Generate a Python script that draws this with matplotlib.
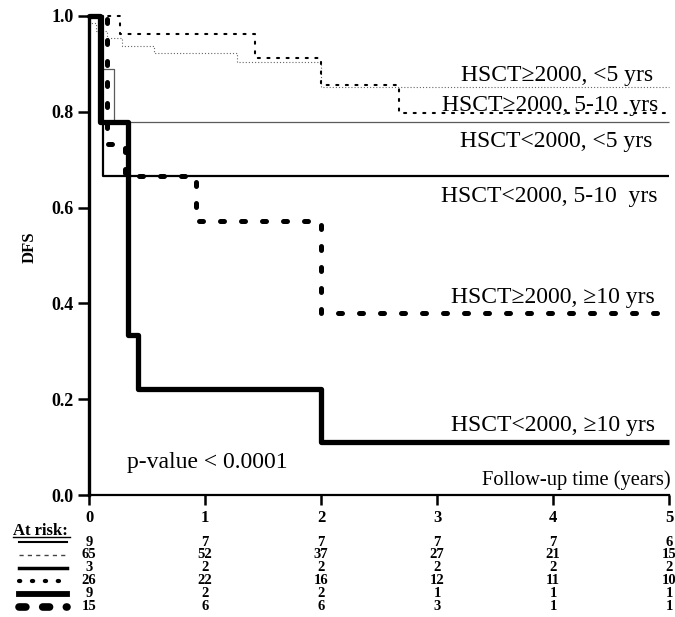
import matplotlib
matplotlib.use("Agg")
import matplotlib.pyplot as plt
from matplotlib.lines import Line2D
from matplotlib.transforms import blended_transform_factory

plt.rcParams['font.family'] = ['Liberation Serif', 'DejaVu Serif']

# Kaplan-Meier step curves (time in years, disease-free survival)
t_lt2000_lt5 = [0, 0.11, 0.215, 5]
s_lt2000_lt5 = [1.0, 0.889, 0.778, 0.778]

t_lt2000_5to10 = [0, 0.12, 5]
s_lt2000_5to10 = [1.0, 0.667, 0.667]

t_ge2000_lt5 = [0, 0.01, 0.06, 0.155, 0.285, 0.56, 1.28, 2.0, 5]
s_ge2000_lt5 = [1.0, 0.985, 0.969, 0.954, 0.938, 0.922, 0.903, 0.852, 0.852]

t_ge2000_5to10 = [0, 0.27, 1.43, 2.0, 2.67, 5]
s_ge2000_5to10 = [1.0, 0.962, 0.912, 0.855, 0.798, 0.798]

t_lt2000_ge10 = [0, 0.095, 0.335, 0.42, 2.0, 5]
s_lt2000_ge10 = [1.0, 0.778, 0.333, 0.222, 0.111, 0.111]

t_ge2000_ge10 = [0, 0.155, 0.31, 0.92, 2.0, 5]
s_ge2000_ge10 = [1.0, 0.733, 0.667, 0.571, 0.381, 0.381]

risk_times = [0, 1, 2, 3, 4, 5]
risk_lt2000_lt5 = [9, 7, 7, 7, 7, 6]
risk_ge2000_lt5 = [65, 52, 37, 27, 21, 15]
risk_lt2000_5to10 = [3, 2, 2, 2, 2, 2]
risk_ge2000_5to10 = [26, 22, 16, 12, 11, 10]
risk_lt2000_ge10 = [9, 2, 2, 1, 1, 1]
risk_ge2000_ge10 = [15, 6, 6, 3, 1, 1]

# line styles for each group
styles = {
    'lt2000_lt5': dict(color='#5a5a5a', lw=0.9, ls='-'),
    'ge2000_lt5': dict(color='#666666', lw=0.8, ls=(0, (1.0, 1.8))),
    'lt2000_5to10': dict(color='black', lw=1.6, ls='-'),
    'ge2000_5to10': dict(color='black', lw=1.5, ls=(0, (1.0, 3.6)), dash_capstyle='round'),
    'lt2000_ge10': dict(color='black', lw=3.8, ls='-'),
    'ge2000_ge10': dict(color='black', lw=3.6, ls=(0, (0.8, 3.4)), dash_capstyle='round'),
}

curves = [
    ('lt2000_lt5', t_lt2000_lt5, s_lt2000_lt5),
    ('ge2000_lt5', t_ge2000_lt5, s_ge2000_lt5),
    ('lt2000_5to10', t_lt2000_5to10, s_lt2000_5to10),
    ('ge2000_5to10', t_ge2000_5to10, s_ge2000_5to10),
    ('ge2000_ge10', t_ge2000_ge10, s_ge2000_ge10),
    ('lt2000_ge10', t_lt2000_ge10, s_lt2000_ge10),
]

fig = plt.figure(figsize=(6.75, 6.17), dpi=100)
W, H = 675.0, 617.0
ax = fig.add_axes([89 / W, 122 / H, 580 / W, 479 / H])

for key, t, s in curves:
    ax.step(t, s, where='post', clip_on=False, solid_capstyle='butt', **styles[key])

ax.set_xlim(0, 5)
ax.set_ylim(0, 1)
for side in ('top', 'right'):
    ax.spines[side].set_visible(False)
ax.spines['left'].set_linewidth(2.4)
ax.spines['bottom'].set_linewidth(1.6)

ax.set_yticks([0, 0.2, 0.4, 0.6, 0.8, 1.0])
ax.set_yticklabels(['%.1f' % v for v in [0, 0.2, 0.4, 0.6, 0.8, 1.0]],
                   fontsize=13, fontweight='bold')
ax.set_xticks(risk_times)
ax.set_xticklabels([str(v) for v in risk_times], fontsize=12, fontweight='bold')
ax.tick_params(axis='y', direction='out', length=8, width=1.8, pad=3)
ax.tick_params(axis='x', direction='out', length=7, width=1.8, pad=4)

fig.text(30 / W, 1 - 247 / H, 'DFS', rotation=90, fontsize=12, fontweight='bold',
         ha='center', va='center')

# curve labels
labels = [
    (4.86, 0.875, 'HSCT\u22652000, <5 yrs'),
    (4.91, 0.814, 'HSCT\u22652000, 5-10  yrs'),
    (4.86, 0.739, 'HSCT<2000, <5 yrs'),
    (4.90, 0.624, 'HSCT<2000, 5-10  yrs'),
    (4.88, 0.413, 'HSCT\u22652000, \u226510 yrs'),
    (4.88, 0.146, 'HSCT<2000, \u226510 yrs'),
]
for x, y, s in labels:
    ax.text(x, y, s, fontsize=17, ha='right', va='center')

ax.text(0.33, 0.067, 'p-value < 0.0001', fontsize=17, ha='left', va='center')
ax.text(5.01, 0.031, 'Follow-up time (years)', fontsize=14.8, ha='right', va='center')

# number-at-risk table
fig.text(13 / W, 1 - 531 / H, 'At risk:', fontsize=12, fontweight='bold',
         ha='left', va='center')
fig.add_artist(Line2D([13 / W, 70 / W], [1 - 537 / H, 1 - 537 / H], color='black', lw=1.0))

rows = [
    ('lt2000_lt5', risk_lt2000_lt5),
    ('ge2000_lt5', risk_ge2000_lt5),
    ('lt2000_5to10', risk_lt2000_5to10),
    ('ge2000_5to10', risk_ge2000_5to10),
    ('lt2000_ge10', risk_lt2000_ge10),
    ('ge2000_ge10', risk_ge2000_ge10),
]
row_y = [542, 554.5, 567.5, 580.5, 593.5, 606.5]
sample_styles = {
    'lt2000_lt5': dict(color='black', lw=1.5, ls='-'),
    'ge2000_lt5': dict(color='#444444', lw=1.0, ls=(0, (3, 3))),
    'lt2000_5to10': dict(color='black', lw=2.5, ls='-'),
    'ge2000_5to10': dict(color='black', lw=3.0, ls=(0, (0.3, 2.8)), dash_capstyle='round'),
    'lt2000_ge10': dict(color='black', lw=4.2, ls='-'),
    'ge2000_ge10': dict(color='black', lw=5.5, ls=(0, (0.9, 2.2)), dash_capstyle='round'),
}
trans = blended_transform_factory(ax.transData, fig.transFigure)
for (key, counts), yp in zip(rows, row_y):
    yf = 1 - yp / H
    fig.add_artist(Line2D([19 / W, 67 / W], [yf, yf], **sample_styles[key]))
    for t, n in zip(risk_times, counts):
        ax.text(t, yf, str(n), transform=trans, fontsize=10.5, fontweight='bold',
                ha='center', va='center', clip_on=False)

fig.savefig('out.png', dpi=100)
